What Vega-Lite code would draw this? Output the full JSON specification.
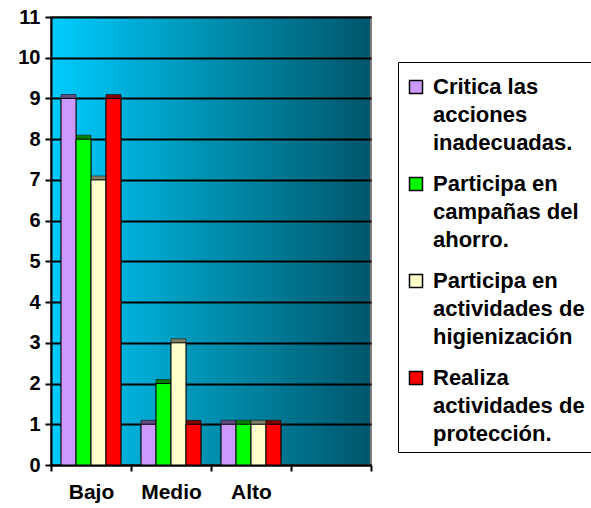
{
  "$schema": "https://vega.github.io/schema/vega-lite/v6.json",
  "width": 320,
  "height": 448,
  "autosize": {"type": "none"},
  "padding": {"left": 51, "top": 17, "right": 220, "bottom": 43},
  "background": "white",
  "config": {
    "font": "Liberation Sans",
    "view": {
      "fill": {"gradient": "linear", "x1": 0, "y1": 0, "x2": 1, "y2": 0,
        "stops": [{"offset": 0, "color": "#00CCFF"}, {"offset": 0.5, "color": "#0090B0"}, {"offset": 1, "color": "#00566C"}]},
      "stroke": "#7F7F7F",
      "strokeWidth": 2
    }
  },
  "data": {
    "values": [
      {"nivel": "Bajo", "serie": "Critica las acciones inadecuadas.", "valor": 9},
      {"nivel": "Bajo", "serie": "Participa en campañas del ahorro.", "valor": 8},
      {"nivel": "Bajo", "serie": "Participa en actividades de higienización", "valor": 7},
      {"nivel": "Bajo", "serie": "Realiza actividades de protección.", "valor": 9},
      {"nivel": "Medio", "serie": "Critica las acciones inadecuadas.", "valor": 1},
      {"nivel": "Medio", "serie": "Participa en campañas del ahorro.", "valor": 2},
      {"nivel": "Medio", "serie": "Participa en actividades de higienización", "valor": 3},
      {"nivel": "Medio", "serie": "Realiza actividades de protección.", "valor": 1},
      {"nivel": "Alto", "serie": "Critica las acciones inadecuadas.", "valor": 1},
      {"nivel": "Alto", "serie": "Participa en campañas del ahorro.", "valor": 1},
      {"nivel": "Alto", "serie": "Participa en actividades de higienización", "valor": 1},
      {"nivel": "Alto", "serie": "Realiza actividades de protección.", "valor": 1}
    ]
  },
  "encoding": {
    "x": {
      "field": "nivel", "type": "nominal",
      "scale": {"domain": ["Bajo", "Medio", "Alto", " "], "paddingInner": 0, "paddingOuter": 0},
      "axis": {
        "title": null, "labelAngle": 0, "labelFont": "Liberation Sans", "labelFontSize": 21,
        "labelFontWeight": "bold", "labelColor": "black", "labelPadding": 10,
        "tickBand": "extent", "tickSize": 6, "tickColor": "black", "tickWidth": 2,
        "domainColor": "black", "domainWidth": 2, "grid": false
      }
    },
    "xOffset": {
      "field": "serie", "type": "nominal",
      "sort": ["Critica las acciones inadecuadas.", "Participa en campañas del ahorro.", "Participa en actividades de higienización", "Realiza actividades de protección."],
      "scale": {"paddingInner": 0, "paddingOuter": 0.67}
    },
    "y": {
      "field": "valor", "type": "quantitative",
      "scale": {"domain": [0, 11], "nice": false},
      "axis": {
        "title": null, "values": [0,1,2,3,4,5,6,7,8,9,10,11], "labelOverlap": false,
        "labelFont": "Liberation Sans", "labelFontSize": 20, "labelFontWeight": "bold",
        "labelColor": "black", "labelPadding": 5, "tickSize": 6, "tickColor": "black",
        "tickWidth": 2, "domainColor": "black", "domainWidth": 2,
        "grid": true, "gridColor": "black", "gridWidth": 2, "gridOpacity": 1
      }
    }
  },
  "layer": [
    {
      "mark": {"type": "bar", "xOffset": 4, "yOffset": -4, "stroke": "black", "strokeWidth": 0.5},
      "encoding": {
        "color": {
          "field": "serie", "type": "nominal",
          "scale": {
            "domain": ["Critica las acciones inadecuadas.", "Participa en campañas del ahorro.", "Participa en actividades de higienización", "Realiza actividades de protección."],
            "range": ["#664C80", "#008000", "#808066", "#800000"]
          },
          "legend": null
        }
      }
    },
    {
      "mark": {"type": "bar", "stroke": "black", "strokeWidth": 1},
      "encoding": {
        "color": {
          "field": "serie", "type": "nominal",
          "scale": {
            "domain": ["Critica las acciones inadecuadas.", "Participa en campañas del ahorro.", "Participa en actividades de higienización", "Realiza actividades de protección."],
            "range": ["#CC99FF", "#00FF00", "#FFFFCC", "#FF0000"]
          },
          "legend": {
            "title": " ", "titleFontSize": 2, "titlePadding": 5, "orient": "none", "legendX": 347, "legendY": 45,
            "direction": "vertical",
            "strokeColor": "black", "padding": 7, "fillColor": "white",
            "symbolType": "square", "symbolSize": 169, "symbolStrokeColor": "black",
            "symbolStrokeWidth": 1.5, "symbolOpacity": 1,
            "labelFont": "Liberation Sans", "labelFontSize": 22, "labelFontWeight": "bold",
            "labelColor": "black", "labelLimit": 300, "labelBaseline": "alphabetic",
            "labelOffset": 6, "rowPadding": 19,
            "labelExpr": "datum.label == 'Critica las acciones inadecuadas.' ? ['Critica las', 'acciones', 'inadecuadas.'] : datum.label == 'Participa en campañas del ahorro.' ? ['Participa en', 'campañas del', 'ahorro.'] : datum.label == 'Participa en actividades de higienización' ? ['Participa en', 'actividades de', 'higienización'] : ['Realiza', 'actividades de', 'protección.']",
            "encode": {"labels": {"update": {"lineHeight": {"value": 28}, "dy": {"value": 7}}}}
          }
        }
      }
    }
  ],
  "resolve": {"scale": {"color": "independent"}, "legend": {"color": "independent"}}
}
